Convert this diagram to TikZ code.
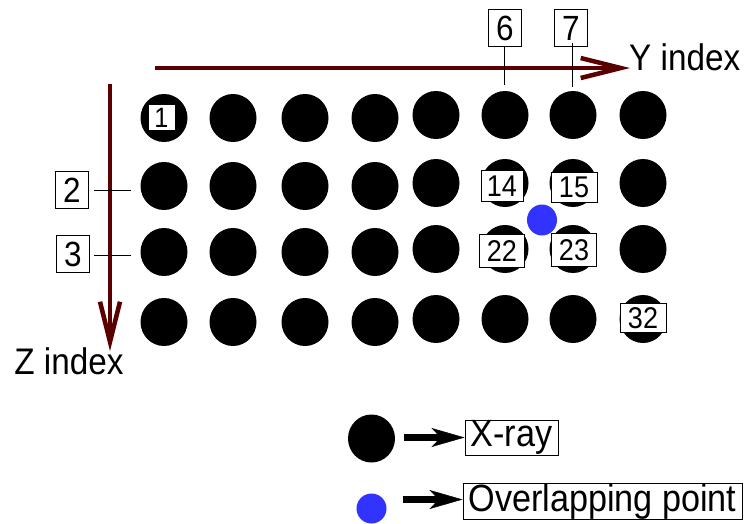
\documentclass[tikz,border=0pt]{standalone}
\usepackage{fontspec}
\setmainfont{Liberation Sans}[FakeStretch=0.9]
\usetikzlibrary{shapes.geometric,arrows.meta}
\definecolor{axisred}{RGB}{90,0,0}
\definecolor{ovblue}{RGB}{51,51,255}
\begin{document}
\begin{tikzpicture}[x=1pt,y=-1pt,
  font=\fontsize{38}{42}\selectfont,
  dot/.style={ellipse, fill=black, minimum width=47pt, minimum height=48pt, inner sep=0pt},
  bluedot/.style={ellipse, fill=ovblue, minimum width=30pt, minimum height=31pt, inner sep=0pt},
  numbox/.style={draw, fill=white, line width=1pt, inner sep=0pt, font=\fontsize{35}{38}\selectfont, minimum width=33pt, minimum height=37pt},
  smallbox/.style={numbox, font=\fontsize{30}{33}\selectfont, minimum width=44pt, minimum height=31pt},
  txtbox/.style={draw, fill=white, line width=1pt, inner sep=0pt},
  tick/.style={line width=1pt},
  axis/.style={draw=axisred, line width=4.5pt, -{Straight Barb[length=40pt,width=20pt,line width=4.5pt]}},
  legarrow/.style={line width=6.5pt, -{Stealth[length=33pt,width=19pt,inset=9pt,line width=0.5pt]}}]
\useasboundingbox (0,0) rectangle (745,523);
% axes
\coordinate (ys) at (155,68);
\coordinate (ye) at (630,68);
\draw[axis] (ys) -- (ye);
\node[anchor=west, inner sep=0pt, font=\fontsize{37}{40}\selectfont] (ylab) at (629,57) {Y index};
\coordinate (zs) at (110,84);
\coordinate (ze) at (110,351);
\draw[axis] (zs) -- (ze);
\node[inner sep=0pt, font=\fontsize{37}{40}\selectfont] (zlab) at (69,361) {Z index};
% dots
\foreach \c/\x in {1/164,2/233,3/305,4/375} {
  \foreach \r/\y in {1/118,2/186,3/252,4/322} {
    \node[dot] (d-\r-\c) at (\x,\y) {};
  }
}
\foreach \c/\x in {5/436,6/505,7/573,8/643} {
  \foreach \r/\y in {1/115,2/183,3/249,4/319} {
    \node[dot] (d-\r-\c) at (\x,\y) {};
  }
}
% labels on dots
\node[numbox, font=\fontsize{28}{30}\selectfont, minimum width=27pt, minimum height=26pt] (l1) at (161.5,117.5) {1};
\node[smallbox, minimum width=42pt] (l14) at (502,186) {14};
\node[smallbox, minimum width=46pt, minimum height=30pt] (l15) at (574,187) {15};
\node[smallbox, minimum width=45pt, minimum height=33pt] (l22) at (502,251) {22};
\node[smallbox, minimum width=45pt, minimum height=33pt] (l23) at (574,250) {23};
\node[smallbox, minimum width=46pt, minimum height=29pt] (l32) at (643,318) {32};
% overlapping point
\node[bluedot] (ov) at (542,220) {};
% index labels
\node[numbox] (b6) at (505,28) {6};
\node[numbox] (b7) at (571,28) {7};
\coordinate (t6) at (504,85);
\coordinate (t7) at (572,87);
\draw[tick] (b6.south -| t6) -- (t6);
\draw[tick] ([yshift=4pt]b7.south -| t7) -- (t7);
\node[numbox] (b2) at (72,190) {2};
\node[numbox] (b3) at (73,254) {3};
\coordinate (t2) at (131,190);
\coordinate (t3) at (131,255);
\draw[tick] ([xshift=5pt]b2.east |- t2) -- (t2);
\draw[tick] ([xshift=4pt]b3.east |- t3) -- (t3);
% legend
\node[dot] (lgx) at (371.5,438.5) {};
\node[txtbox, minimum width=93pt, minimum height=35pt] (xray) at (511.5,437.5) {X-ray};
\draw[legarrow, shorten <=9pt] (lgx.east |- xray.west) -- (xray.west);
\node[bluedot, minimum height=30pt] (lgo) at (371.5,508.5) {};
\node[txtbox, minimum width=279pt, minimum height=34pt] (ovl) at (602.5,501.5) {Overlapping point};
\draw[legarrow, shorten <=16pt] ([yshift=2pt]lgo.east |- ovl.west) -- ([yshift=2pt]ovl.west);
\end{tikzpicture}
\end{document}
